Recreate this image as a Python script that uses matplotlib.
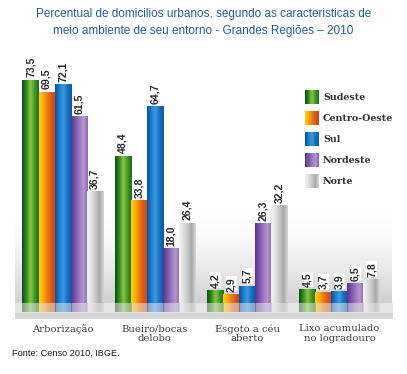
import numpy as np
import matplotlib
matplotlib.use("Agg")
import matplotlib.pyplot as plt
from matplotlib.colors import LinearSegmentedColormap

# data
categorias = ["Arborização", "Bueiro/bocas\ndelobo", "Esgoto a céu\naberto", "Lixo acumulado\nno logradouro"]
regioes = ["Sudeste", "Centro-Oeste", "Sul", "Nordeste", "Norte"]
sudeste = [73.5, 48.4, 4.2, 4.5]
centro_oeste = [69.5, 33.8, 2.9, 3.7]
sul = [72.1, 64.7, 5.7, 3.9]
nordeste = [61.5, 18.0, 26.3, 6.5]
norte = [36.7, 26.4, 32.2, 7.8]
series = [sudeste, centro_oeste, sul, nordeste, norte]

# gradient colours for each region (left -> right of the bar)
grads = [
    ["#0b4d14", "#2f8a22", "#8cc63e", "#3f9a2a", "#1d6a1a"],
    ["#ffd200", "#ffb000", "#f07a10", "#d9561a", "#c9481c"],
    ["#0a4fa0", "#1a7fd0", "#3a9ae0", "#1470c0", "#0c5aa8"],
    ["#5a3590", "#7a55a8", "#9b78c0", "#b896d0", "#8a68b0"],
    ["#f4f4f4", "#e0e0e0", "#c8c8c8", "#a8a8a8", "#d8d8d8"],
]
cmaps = [LinearSegmentedColormap.from_list(n, c) for n, c in zip(regioes, grads)]

fig = plt.figure(figsize=(4.07, 3.74), dpi=100)
fig.patch.set_facecolor("white")

ax = fig.add_axes([15 / 407, (374 - 318) / 374, 377 / 407, 258 / 374])
ymin, ymax = -5, 80
xmin, xmax = -0.516, 3.57
ax.set_xlim(xmin, xmax)
ax.set_ylim(ymin, ymax)
ax.axis("off")

# background: white fading to gray near the floor
t = np.linspace(0, 1, 200)
bg = np.clip((t - 0.6) / 0.4, 0, 1) ** 1.8
bgmap = LinearSegmentedColormap.from_list("bg", ["#ffffff", "#cfcfcf"])
ax.imshow(bg[:, None], extent=[xmin, xmax, 0, ymax], aspect="auto", cmap=bgmap, vmin=0, vmax=1, zorder=0)
ax.fill_between([xmin, xmax], -5, 0, color="#e6e6e6", zorder=0)
ax.fill_between([xmin, xmax], -5, -3.4, color="#d4d4d4", zorder=0)

w = 16 / 92
grad = np.linspace(0, 1, 64)[None, :]
x = np.arange(len(categorias))
for i, (vals, cm) in enumerate(zip(series, cmaps)):
    xs = x + (i - 2) * w
    bars = ax.bar(xs, vals, width=w, color="none", edgecolor="none", zorder=2)
    refl = ax.bar(xs, [-3] * len(xs), width=w, color="none", edgecolor="none", zorder=2)
    for b, r, v in zip(bars, refl, vals):
        x0 = b.get_x()
        im = ax.imshow(grad, extent=[x0, x0 + w, 0, v], aspect="auto", cmap=cm, zorder=2)
        im.set_clip_path(b)
        im2 = ax.imshow(grad, extent=[x0, x0 + w, -3, 0], aspect="auto", cmap=cm, alpha=0.45, zorder=2)
        im2.set_clip_path(r)
        ax.text(x0 + w / 2, v + 0.8, f"{v:.1f}".replace(".", ","), rotation=90,
                ha="center", va="bottom", fontsize=7.6, fontweight="bold", color="#2a2a2a",
                family="Liberation Sans",
                bbox=dict(facecolor="white", edgecolor="none", pad=0.4), zorder=3)

# category labels
for xi, c in zip(x, categorias):
    ax.text(xi, -7.0, c, ha="center", va="top", fontsize=7.2, color="#3a3a3a",
            family="DejaVu Serif", linespacing=1.1, clip_on=False)

# legend
for i, (r, cm) in enumerate(zip(regioes, cmaps)):
    ly = (374 - 104 - i * 21) / 374
    lax = fig.add_axes([305 / 407, ly, 14 / 407, 14 / 374])
    lax.imshow(grad, aspect="auto", cmap=cm)
    lax.axis("off")
    fig.text(323 / 407, ly + 7 / 374, r, ha="left", va="center", fontsize=6.8,
             fontweight="bold", color="#333333", family="DejaVu Serif")

fig.text(0.5, 1 - 8 / 374, "Percentual de domicilios urbanos, segundo as caracteristicas de\n"
         "meio ambiente de seu entorno - Grandes Regiões – 2010",
         ha="center", va="top", fontsize=8.5, color="#1f5d9e", linespacing=1.55,
         family="Liberation Sans")
fig.text(12 / 407, 21 / 374, "Fonte: Censo 2010, IBGE.", ha="left", va="center",
         fontsize=6.6, color="#1a1a1a", family="Liberation Sans")

fig.savefig("out.png", dpi=100)
